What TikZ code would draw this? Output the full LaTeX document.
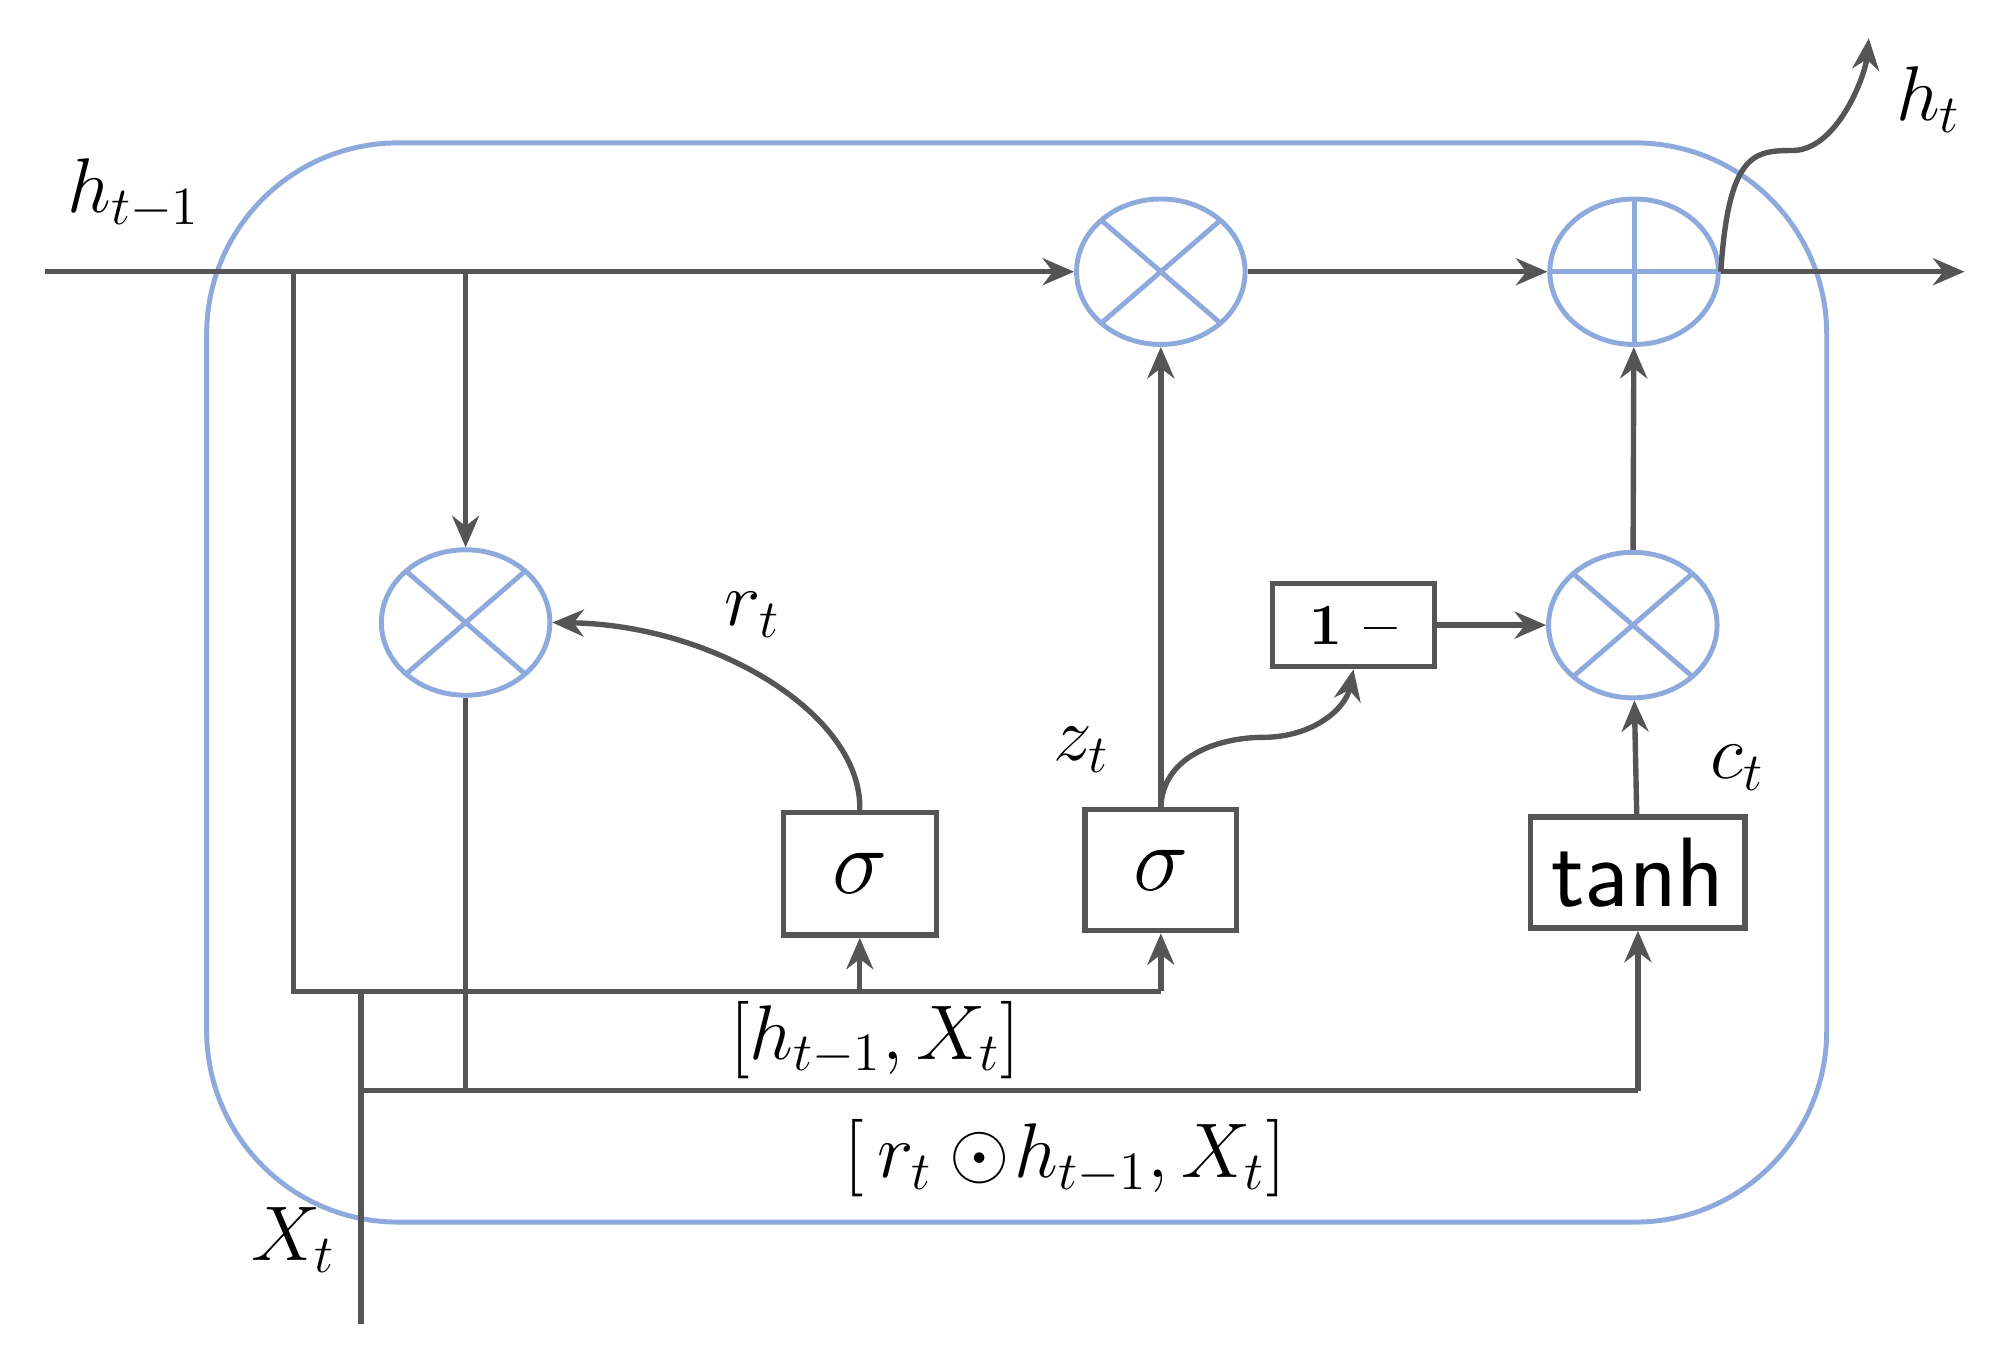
\documentclass[tikz,border=0pt]{standalone}
\usepackage{amsmath}
\usetikzlibrary{shapes.geometric,arrows.meta}
\definecolor{bl}{HTML}{8EA9DB}
\definecolor{gr}{HTML}{555555}
\begin{document}
\begin{tikzpicture}[x=0.01cm,y=-0.01cm,
  ln/.style={draw=gr,line width=1.2pt},
  ar/.style={ln,-{Stealth[length=7pt,width=6pt]}},
  op/.style={ellipse,draw=bl,line width=1.1pt,minimum width=1.32cm,minimum height=1.14cm,inner sep=0pt},
  mul/.style={op,path picture={\draw[bl,line width=1.1pt] (path picture bounding box.north west)--(path picture bounding box.south east) (path picture bounding box.north east)--(path picture bounding box.south west);}},
  add/.style={op,path picture={\draw[bl,line width=1.1pt] (path picture bounding box.north)--(path picture bounding box.south) (path picture bounding box.east)--(path picture bounding box.west);}},
  box/.style={draw=gr,line width=1.2pt,inner sep=0pt,font=\fontsize{20}{22}\selectfont},
  lab/.style={font=\fontsize{17}{19}\selectfont}]
\useasboundingbox (0,0) rectangle (1560,1063);
\draw[bl,line width=1.1pt,rounded corners=1.5cm] (162,112) rectangle (1432,958);
% operators
\node[mul] (m1) at (910,213) {};
\node[add] (p1) at (1281,213) {};
\node[mul] (m2) at (365,488) {};
\node[mul] (m3) at (1280,490) {};
\node[box,minimum width=1.2cm,minimum height=0.96cm] (s1) at (674,685) {$\sigma$};
\node[box,minimum width=1.19cm,minimum height=0.95cm] (s2) at (910,682) {$\sigma$};
\node[box,minimum width=1.68cm,minimum height=0.87cm,font=\sffamily\fontsize{22}{24}\selectfont] (th) at (1284,684) {tanh};
\node[box,minimum width=1.27cm,minimum height=0.65cm,font=\fontsize{13}{15}\selectfont\bfseries] (om) at (1061,490) {1 --};
\coordinate (in) at (35,213);
\coordinate (out) at (1540,213);
\coordinate (ht) at (1465,30);
\coordinate (a1) at (230,213);
\coordinate (a2) at (365,213);
\coordinate (b1) at (230,777);
\coordinate (b2) at (910,777);
\coordinate (b3) at (674,777);
\coordinate (c1) at (285,855);
\coordinate (c2) at (1284,855);
\coordinate (c3) at (365,855);
\coordinate (x0) at (283,1038);
\coordinate (x1) at (283,777);
% top line
\draw[ar] (in) -- (m1);
\draw[ar] (m1) -- (p1);
\draw[ar] (p1.east) -- (out);
\draw[ar] (p1.east) .. controls (1355,120) and (1375,118) .. (1405,118) .. controls (1440,118) and (1462,60) .. (ht);
% left verticals
\draw[ln] (a1) -- (b1) -- (b2);
\draw[ar] (b3) -- (s1);
\draw[ar] (b2) -- (s2);
\draw[ar] (a2) -- (m2);
\draw[ln] (m2) -- (c3);
\draw[ln] (c1) -- (c2);
\draw[ar] (c2) -- (th);
\draw[ln] (x0) -- (x1);
% gates
\draw[ar] (s1.north) .. controls (676,560) and (560,490) .. (m2.east);
\draw[ar] (s2) -- (m1);
\draw[ar] (s2.north) .. controls (912,590) and (960,578) .. (990,578) .. controls (1030,578) and (1055,555) .. (om.south);
\draw[ar] (om) -- (m3);
\draw[ar] (th) -- (m3);
\draw[ar] (m3) -- (p1);
% labels
\node[lab] at (105,152) {$h_{t-1}$};
\node[lab] at (1512,78) {$h_t$};
\node[lab] at (590,482) {$r_t$};
\node[lab] at (848,588) {$z_t$};
\node[lab] at (1362,602) {$c_t$};
\node[lab] at (686,815) {$[h_{t-1},X_t]$};
\node[lab] at (835,908) {$[\,r_t \odot\! h_{t-1},X_t]$};
\node[lab] at (230,972) {$X_t$};
\end{tikzpicture}
\end{document}
